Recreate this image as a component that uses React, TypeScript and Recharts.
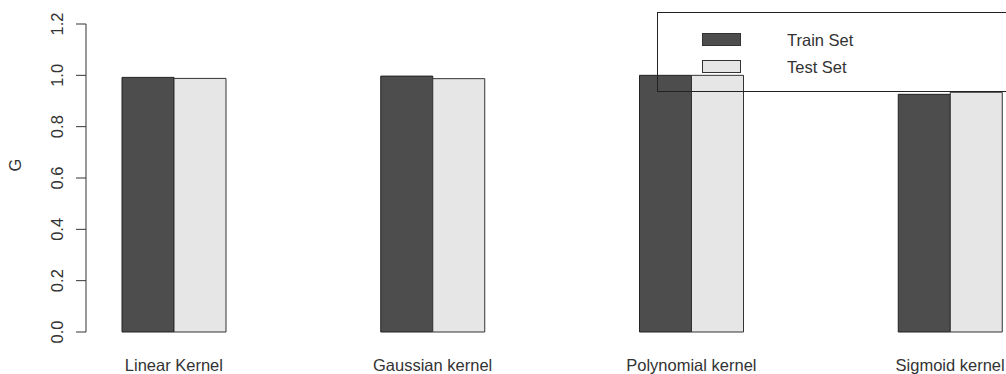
import React from 'react'
import { BarChart, Bar, XAxis, YAxis, Label } from 'recharts'

const categories = ['Linear Kernel', 'Gaussian kernel', 'Polynomial kernel', 'Sigmoid kernel']
const trainSet = [0.992, 0.997, 1.0, 0.926]
const testSet = [0.988, 0.987, 1.0, 0.934]
const yTicks = [0, 0.2, 0.4, 0.6, 0.8, 1.0, 1.2]

const data = categories.map((name, i) => ({ name, train: trainSet[i], test: testSet[i] }))

const FONT = "'Liberation Sans', Arial, sans-serif"
const FS = 16.5
const DARK = '#4d4d4d'
const LIGHT = '#e6e6e6'
const TEXT = '#333'

const YTick = ({ x, y, payload }: any) => (
  <text
    x={x}
    y={y}
    transform={`rotate(-90 ${x} ${y})`}
    textAnchor="middle"
    fill={TEXT}
    fontSize={FS}
    fontFamily={FONT}
  >
    {Number(payload.value).toFixed(1)}
  </text>
)

// legend drawn as an open box like R's legend()
const LegendBox = () => {
  const rows = [
    { label: 'Train Set', color: DARK },
    { label: 'Test Set', color: LIGHT }
  ]
  return (
    <div
      style={{
        position: 'absolute',
        left: 657,
        top: 12,
        width: 400,
        height: 80,
        border: '1px solid #222',
        boxSizing: 'border-box',
        fontFamily: FONT,
        fontSize: FS,
        color: TEXT,
        pointerEvents: 'none'
      }}
    >
      {rows.map((r, i) => (
        <div key={r.label} style={{ position: 'absolute', top: 20 + i * 26.5, left: 0 }}>
          <div
            style={{
              position: 'absolute',
              left: 44,
              top: 0,
              width: 39,
              height: 13,
              background: r.color,
              border: '1px solid #333',
              boxSizing: 'border-box'
            }}
          />
          <div style={{ position: 'absolute', left: 129, top: -1, whiteSpace: 'nowrap', lineHeight: '16px' }}>
            {r.label}
          </div>
        </div>
      ))}
    </div>
  )
}

export default function App() {
  return (
    <div style={{ position: 'absolute', left: 0, top: 0, width: 1006, height: 374, overflow: 'hidden', background: '#fff' }}>
      <BarChart
        width={1006}
        height={374}
        data={data}
        margin={{ top: 24, right: 0, bottom: 0, left: 0 }}
        barCategoryGap={77.5}
        barGap={0}
      >
        <XAxis
          dataKey="name"
          axisLine={false}
          tickLine={false}
          tickSize={0}
          tickMargin={27}
          height={42}
          padding={{ left: -41.5, right: -73.5 }}
          interval={0}
          tick={{ fill: TEXT, fontSize: FS, fontFamily: FONT }}
        />
        <YAxis
          domain={[0, 1.2]}
          ticks={yTicks}
          width={86}
          tickSize={10}
          tickMargin={13}
          axisLine={{ stroke: '#333' }}
          tickLine={{ stroke: '#333' }}
          tick={<YTick />}
        >
          <Label
            content={() => (
              <text
                x={21}
                y={165}
                transform="rotate(-90 21 165)"
                textAnchor="middle"
                fill={TEXT}
                fontSize={FS}
                fontFamily={FONT}
              >
                G
              </text>
            )}
          />
        </YAxis>
        <Bar dataKey="train" name="Train Set" fill={DARK} stroke="#222" strokeWidth={1} isAnimationActive={false} />
        <Bar dataKey="test" name="Test Set" fill={LIGHT} stroke="#333" strokeWidth={1} isAnimationActive={false} />
      </BarChart>
      <LegendBox />
    </div>
  )
}
